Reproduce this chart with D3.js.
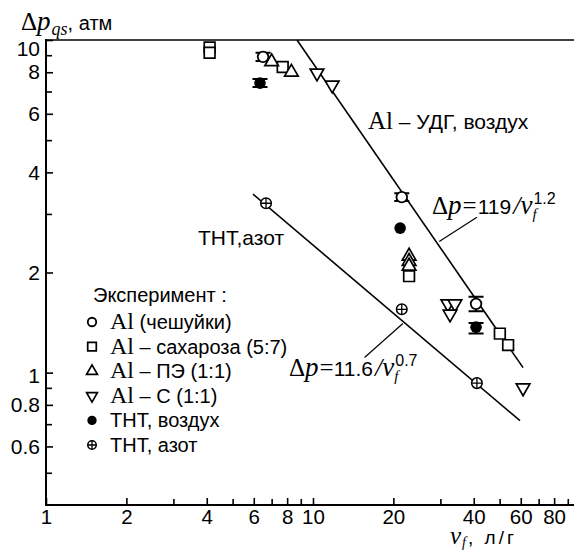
<!DOCTYPE html>
<html><head><meta charset="utf-8">
<script src="https://cdn.jsdelivr.net/npm/d3@7"></script>
<style>body{margin:0;background:#fff}svg{display:block}</style>
</head><body>
<svg id="c" width="574" height="550"></svg>
<script>
// ---- data ----
const xTicksMajor = [1,2,4,6,8,10,20,40,60,80];
const xTicksMinor = [3,5,7,9,30,50,70,90];
const yTicksMajor = [0.6,0.8,1,2,4,6,8,10];
const yTicksMinor = [0.5,0.7,0.9,3,5,7,9];

// [v_f, Δp, errLow, errHigh]
const alFlakes   = [[6.5,8.9,8.65,9.15],[21.5,3.37,3.28,3.46],[40.8,1.61,1.53,1.69]];
const tntAir     = [[6.33,7.42,7.22,7.64],[21.2,2.72,null,null],[40.8,1.37,1.31,1.41]];
const alSucrose  = [[4.1,9.5],[4.1,9.15],[7.7,8.3],[22.9,1.95],[50.1,1.31],[53.8,1.21]];
const alPE       = [[7.0,8.6],[8.3,8.0],[22.9,2.24],[22.9,2.16],[22.9,2.09]];
const alC        = [[10.35,7.96],[11.8,7.32],[32.0,1.61],[34.0,1.61],[32.6,1.50],[61.2,0.90]];
const tntN2      = [[6.67,3.23],[21.5,1.55],[41.1,0.93]];

const lineUDG    = [[8.71,10],[61.2,1.035]];
const lineTNT    = [[5.96,3.44],[59.6,0.717]];
const leaderUDG  = [[41.1,2.93],[29.7,2.48]];
const leaderTNT  = [[15.6,1.11],[21.7,1.405]];

const legendItems = [
  {sym:"circle", al:"Al", rest:" (чешуйки)"},
  {sym:"square", al:"Al", rest:" – сахароза (5:7)"},
  {sym:"up",     al:"Al", rest:" – ПЭ (1:1)"},
  {sym:"down",   al:"Al", rest:" – C (1:1)"},
  {sym:"filled", al:"",   rest:"ТНТ, воздух"},
  {sym:"cross",  al:"",   rest:"ТНТ, азот"}
];

// ---- drawing ----
const SANS = "'Liberation Sans', Arial, sans-serif";
const SERIF = "'Liberation Serif', 'Times New Roman', serif";
const svg = d3.select("#c");
const L = 46, R = 580, T = 40, B = 505;
const x = d3.scaleLog().domain([1,100]).range([L,R]);
const y = d3.scaleLog().domain([0.4,10]).range([B,T]);

// frame
const frame = svg.append("g").attr("stroke","#000").attr("fill","none");
frame.append("line").attr("x1",L).attr("x2",574).attr("y1",T).attr("y2",T).attr("stroke-width",1.6);
frame.append("line").attr("x1",L).attr("x2",L).attr("y1",T-1).attr("y2",B+1).attr("stroke-width",2);
frame.append("line").attr("x1",L-1).attr("x2",574).attr("y1",B).attr("y2",B).attr("stroke-width",2);

// axes (ticks inward)
function styleAxis(g){ g.select(".domain").remove(); g.selectAll(".tick line").attr("stroke","#000").attr("stroke-width",1.6);
  g.selectAll("text").attr("font-family",SANS).attr("font-size",21).attr("fill","#000"); }
const xAx = svg.append("g").attr("transform",`translate(0,${B})`)
  .call(d3.axisBottom(x).tickValues(xTicksMajor).tickSize(-7).tickPadding(4).tickFormat(d3.format("d")))
  .call(styleAxis);
xAx.selectAll(".tick text").attr("font-size",20.5);
svg.append("g").attr("transform",`translate(0,${B})`)
  .call(d3.axisBottom(x).tickValues(xTicksMinor).tickSize(-6).tickFormat(""))
  .call(styleAxis);
const yAx = svg.append("g").attr("transform",`translate(${L},0)`)
  .call(d3.axisLeft(y).tickValues(yTicksMajor).tickSize(-7).tickPadding(6).tickFormat(d=>String(d)))
  .call(styleAxis);
yAx.selectAll(".tick text").attr("dy",d=> d===10 ? "0.72em" : (d===1 ? "0.45em" : "0.32em"));
svg.append("g").attr("transform",`translate(${L},0)`)
  .call(d3.axisLeft(y).tickValues(yTicksMinor).tickSize(-6).tickFormat(""))
  .call(styleAxis);

// fit lines
const lineGen = d3.line().x(d=>x(d[0])).y(d=>y(d[1]));
[lineUDG,lineTNT].forEach(l=>svg.append("path").attr("d",lineGen(l)).attr("fill","none").attr("stroke","#000").attr("stroke-width",1.6));
[leaderUDG,leaderTNT].forEach(l=>svg.append("path").attr("d",lineGen(l)).attr("fill","none").attr("stroke","#000").attr("stroke-width",1.2));

// marker helpers
function marker(g, type, cx, cy, s){
  const k = s||1;
  if(type==="circle"){ g.append("circle").attr("cx",cx).attr("cy",cy).attr("r",5.3*k).attr("fill","#fff").attr("stroke","#000").attr("stroke-width",1.8); }
  else if(type==="filled"){ g.append("circle").attr("cx",cx).attr("cy",cy).attr("r",5.8*k).attr("fill","#000"); }
  else if(type==="square"){ g.append("path").attr("d",d3.symbol(d3.symbolSquare,115*k*k)()).attr("transform",`translate(${cx},${cy})`).attr("fill","#fff").attr("stroke","#000").attr("stroke-width",1.7); }
  else if(type==="up"||type==="down"){ g.append("path").attr("d",d3.symbol(d3.symbolTriangle,80*k*k)()).attr("transform",`translate(${cx},${cy}) rotate(${type==="down"?180:0})`).attr("fill","#fff").attr("stroke","#000").attr("stroke-width",1.7); }
  else if(type==="cross"){ const r=5.3*k; g.append("circle").attr("cx",cx).attr("cy",cy).attr("r",r).attr("fill","#fff").attr("stroke","#000").attr("stroke-width",1.5);
    g.append("path").attr("d",`M${cx-r},${cy}H${cx+r}M${cx},${cy-r}V${cy+r}`).attr("stroke","#000").attr("stroke-width",1.3); }
}
function errbars(g, data){
  data.filter(d=>d[2]!=null).forEach(d=>{
    const cx=x(d[0]), y1=y(d[2]), y2=y(d[3]);
    g.append("path").attr("d",`M${cx},${y1}V${y2}M${cx-7.5},${y1}H${cx+7.5}M${cx-7.5},${y2}H${cx+7.5}`).attr("stroke","#000").attr("stroke-width",2).attr("fill","none");
  });
}
const pts = svg.append("g");
errbars(pts, alFlakes); errbars(pts, tntAir);
alSucrose.forEach(d=>marker(pts,"square",x(d[0]),y(d[1])));
alPE.forEach(d=>marker(pts,"up",x(d[0]),y(d[1])));
alC.forEach(d=>marker(pts,"down",x(d[0]),y(d[1])));
alFlakes.forEach(d=>marker(pts,"circle",x(d[0]),y(d[1])));
tntAir.forEach(d=>marker(pts,"filled",x(d[0]),y(d[1])));
tntN2.forEach(d=>marker(pts,"cross",x(d[0]),y(d[1])));

// rich text helper: parts {t, f:'s'|serif, i:italic, z:size, dx, dy, ls}
function rich(x0, y0, parts){
  const t = svg.append("text").attr("x",x0).attr("y",y0).attr("fill","#000");
  parts.forEach(p=>{
    const s=t.append("tspan").text(p.t).attr("font-family",p.f==="s"?SANS:SERIF).attr("font-size",p.z||20);
    if(p.i) s.attr("font-style","italic");
    if(p.dx) s.attr("dx",p.dx);
    if(p.dy) s.attr("dy",p.dy);
    if(p.ls) s.attr("letter-spacing",p.ls);
  });
  return t;
}
function subsup(t, sub, sup){
  const bb = t.node().getBBox();
  const xe = bb.x + bb.width + 1;
  const yb = +t.attr("y");
  if(sub) svg.append("text").attr("x",xe-1).attr("y",yb+5).text(sub).attr("font-family",SERIF).attr("font-style","italic").attr("font-size",15);
  if(sup) svg.append("text").attr("x",xe).attr("y",yb-10).text(sup).attr("font-family",SANS).attr("font-size",16);
}

// y axis title
const yt = rich(21, 30, [{t:"Δ",z:25},{t:"p",i:1,z:27}]);
{ const bb=yt.node().getBBox();
  const s = svg.append("text").attr("x",bb.x+bb.width+1).attr("y",35).attr("font-family",SERIF).attr("font-style","italic").attr("font-size",18).text("qs");
  const b2 = s.node().getBBox();
  svg.append("text").attr("x",b2.x+b2.width).attr("y",30).attr("font-family",SANS).attr("font-size",20).text(", атм"); }

// x axis title
const xt = rich(450, 544, [{t:"v",i:1,z:25}]);
{ const bb=xt.node().getBBox();
  const s = svg.append("text").attr("x",bb.x+bb.width).attr("y",547).attr("font-family",SERIF).attr("font-style","italic").attr("font-size",14).text("f");
  const b2 = s.node().getBBox();
  svg.append("text").attr("x",b2.x+b2.width).attr("y",544).attr("font-family",SANS).attr("font-size",19).attr("letter-spacing",3).text(", л/г"); }

// annotations
rich(368, 129, [{t:"Al",z:25},{t:" – УДГ, воздух",f:"s",z:21}]);
rich(198, 245, [{t:"ТНТ,азот",f:"s",z:21}]);
const a1 = rich(432, 214, [{t:"Δ",z:25},{t:"p",i:1,z:27},{t:"=",z:25,dx:1},{t:"119",f:"s",z:21,dx:1},{t:"/",i:1,z:26,dx:2},{t:"v",i:1,z:27}]);
subsup(a1,"f","1.2");
const a2 = rich(289, 376, [{t:"Δ",z:25},{t:"p",i:1,z:27},{t:"=",z:25,dx:1},{t:"11.6",f:"s",z:21},{t:"/",i:1,z:26,dx:2},{t:"v",i:1,z:27}]);
subsup(a2,"f","0.7");

// legend
svg.append("text").attr("x",93).attr("y",302).attr("font-family",SANS).attr("font-size",20).text("Эксперимент :");
legendItems.forEach((it,i)=>{
  const yy = 329 + i*24.6;
  marker(svg, it.sym, 92, yy-7, 0.8);
  const parts=[];
  if(it.al) parts.push({t:it.al,z:24});
  parts.push({t:it.rest,f:"s",z:20});
  rich(110, yy, parts);
});
</script>
</body></html>
